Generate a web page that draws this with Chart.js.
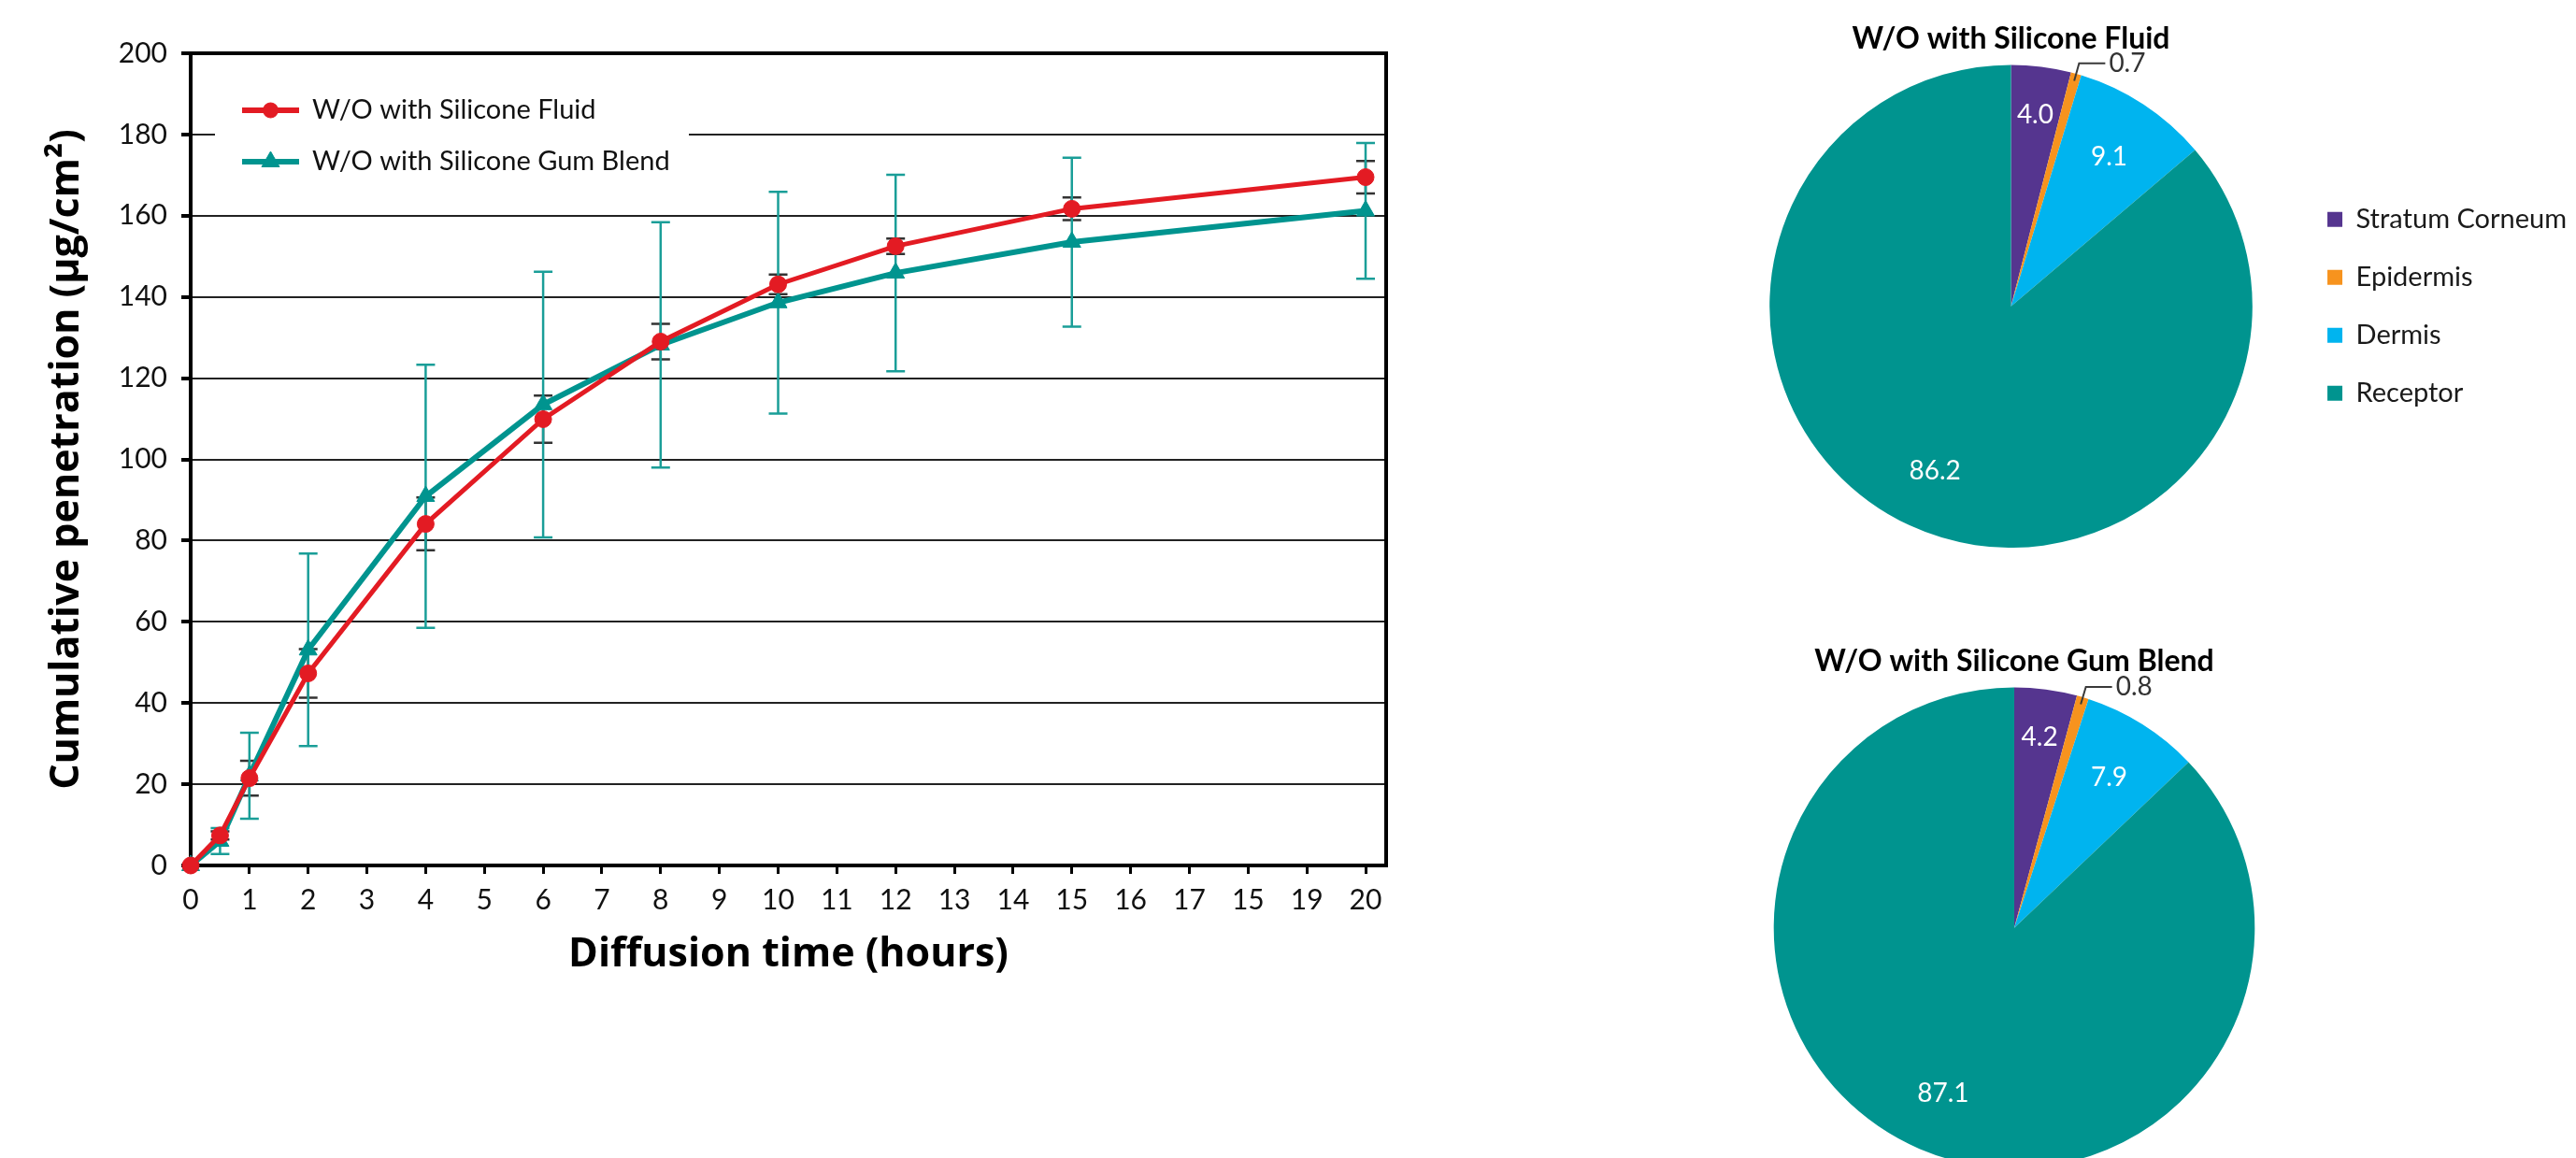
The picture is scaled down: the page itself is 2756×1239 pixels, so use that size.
<!DOCTYPE html>
<html>
<head>
<meta charset="utf-8">
<title>Cumulative penetration</title>
<script src="https://cdn.jsdelivr.net/npm/chart.js@4.4.1/dist/chart.umd.min.js"></script>
<style>
  html, body { margin: 0; padding: 0; background: #fff; }
  body { width: 2756px; height: 1239px; position: relative; overflow: hidden; }
  canvas { position: absolute; }
  #lineChart { left: 0; top: 0; }
  #pieFluid { left: 1846px; top: 0; }
  #pieGum { left: 1840px; top: 660px; }
</style>
</head>
<body>
<canvas id="lineChart" width="1500" height="1080"></canvas>
<canvas id="pieFluid" width="910" height="586"></canvas>
<canvas id="pieGum" width="630" height="590"></canvas>
<script>
// ------------------------------------------------------------------
// Datos
// ------------------------------------------------------------------
const horas = [0, 0.5, 1, 2, 4, 6, 8, 10, 12, 15, 20];
const fluidMedia = [0, 7.4, 21.5, 47.3, 84.1, 109.9, 129.0, 143.1, 152.5, 161.7, 169.5];
const fluidError = [0, 1.0, 4.3, 6.0, 6.5, 5.8, 4.4, 2.4, 1.9, 2.8, 4.0];
const gumMedia = [0, 6.0, 22.1, 53.1, 90.9, 113.5, 128.2, 138.6, 145.9, 153.5, 161.2];
const gumError = [0, 3.2, 10.6, 23.7, 32.4, 32.7, 30.2, 27.3, 24.2, 20.8, 16.7];

const xTicks = [0, 1, 2, 3, 4, 5, 6, 7, 8, 9, 10, 11, 12, 13, 14, 15, 16, 17, 18, 19, 20];
const xTickLabels = ['0', '1', '2', '3', '4', '5', '6', '7', '8', '9', '10', '11', '12', '13', '14', '15', '16', '17', '15', '19', '20'];

const capas = ['Stratum Corneum', 'Epidermis', 'Dermis', 'Receptor'];
const fluidCapas = [4.0, 0.7, 9.1, 86.2];
const gumCapas = [4.2, 0.8, 7.9, 87.1];

const ROJO = '#E31B23';
const VERDE = '#00948F';
const coloresCapas = ['#55358F', '#F7931E', '#00B4EF', '#00948F'];

Chart.defaults.font.family = 'Lato, "Noto Sans", sans-serif';
Chart.defaults.color = '#111';
const fuenteTitulo = '"Open Sans", Lato, sans-serif';

// ------------------------------------------------------------------
// Plugins
// ------------------------------------------------------------------
// marco negro alrededor del area del grafico
const marco = {
  id: 'marco',
  beforeDatasetsDraw(chart) {
    const {ctx, chartArea: a} = chart;
    ctx.save();
    ctx.strokeStyle = '#000';
    ctx.lineWidth = 4;
    ctx.strokeRect(a.left, a.top, a.right - a.left, a.bottom - a.top);
    ctx.restore();
  }
};

// leyenda dentro del area, con fondo blanco
const leyendaInterna = {
  id: 'leyendaInterna',
  beforeDatasetsDraw(chart, args, opts) {
    const {ctx} = chart;
    ctx.save();
    ctx.fillStyle = '#fff';
    ctx.fillRect(opts.left, opts.top, opts.width, opts.height);
    chart.data.datasets.forEach((ds, i) => {
      const cy = opts.firstRow + i * opts.rowGap;
      const x0 = opts.symbolLeft;
      ctx.strokeStyle = ds.borderColor;
      ctx.lineWidth = 6;
      ctx.beginPath();
      ctx.moveTo(x0, cy);
      ctx.lineTo(x0 + opts.symbolWidth, cy);
      ctx.stroke();
      ctx.fillStyle = ds.borderColor;
      ctx.lineWidth = 1;
      Chart.helpers.drawPoint(ctx, {
        pointStyle: ds.pointStyle,
        radius: ds.legendRadius,
        borderWidth: 1,
        rotation: 0
      }, x0 + opts.symbolWidth / 2, cy);
      ctx.fillStyle = '#111';
      ctx.font = opts.font;
      ctx.textAlign = 'left';
      ctx.textBaseline = 'middle';
      ctx.fillText(ds.label, opts.textLeft, cy);
    });
    ctx.restore();
  }
};

// barras de error
const barrasError = {
  id: 'barrasError',
  beforeDatasetsDraw(chart) {
    const {ctx, scales: {x, y}} = chart;
    ctx.save();
    chart.data.datasets.forEach(ds => {
      ctx.strokeStyle = ds.errorColor;
      ctx.lineWidth = 2.5;
      ds.data.forEach((p, i) => {
        const e = ds.errores[i];
        if (!e) return;
        const px = x.getPixelForValue(p.x);
        const arriba = y.getPixelForValue(p.y + e);
        const abajo = y.getPixelForValue(p.y - e);
        ctx.beginPath();
        ctx.moveTo(px, arriba); ctx.lineTo(px, abajo);
        ctx.moveTo(px - 10, arriba); ctx.lineTo(px + 10, arriba);
        ctx.moveTo(px - 10, abajo); ctx.lineTo(px + 10, abajo);
        ctx.stroke();
      });
    });
    ctx.restore();
  }
};

// etiquetas de los sectores
const etiquetasPie = {
  id: 'etiquetasPie',
  afterDatasetsDraw(chart, args, opts) {
    const {ctx} = chart;
    const meta = chart.getDatasetMeta(0);
    const valores = chart.data.datasets[0].data;
    ctx.save();
    ctx.font = '28px Lato, "Noto Sans", sans-serif';
    ctx.textBaseline = 'middle';
    meta.data.forEach((arc, i) => {
      const {x, y, startAngle, endAngle, outerRadius} = arc.getProps(['x', 'y', 'startAngle', 'endAngle', 'outerRadius'], true);
      const mid = (startAngle + endAngle) / 2;
      const punto = f => ({x: x + Math.cos(mid) * outerRadius * f, y: y + Math.sin(mid) * outerRadius * f});
      const texto = valores[i].toFixed(1);
      if (i === opts.callout) {
        const p1 = punto(0.97);
        const p2 = punto(1.045);
        ctx.strokeStyle = '#3a3a3a';
        ctx.lineWidth = 2;
        ctx.beginPath();
        ctx.moveTo(p1.x, p1.y);
        ctx.lineTo(p2.x, p2.y);
        ctx.lineTo(p2.x + 28, p2.y);
        ctx.stroke();
        ctx.fillStyle = '#333';
        ctx.textAlign = 'left';
        ctx.fillText(texto, p2.x + 32, p2.y);
      } else {
        const p = punto(opts.radios[i]);
        ctx.fillStyle = '#fff';
        ctx.textAlign = 'center';
        ctx.fillText(texto, p.x, p.y);
      }
    });
    ctx.restore();
  }
};

// ------------------------------------------------------------------
// Grafico de lineas
// ------------------------------------------------------------------
const puntos = (xs, ys) => xs.map((v, i) => ({x: v, y: ys[i]}));

new Chart(document.getElementById('lineChart'), {
  type: 'line',
  data: {
    datasets: [{
      label: 'W/O with Silicone Fluid',
      data: puntos(horas, fluidMedia),
      errores: fluidError,
      errorColor: '#333',
      borderColor: ROJO,
      backgroundColor: ROJO,
      borderWidth: 5,
      pointStyle: 'circle',
      pointRadius: 9,
      legendRadius: 8,
      pointBackgroundColor: ROJO,
      pointBorderColor: ROJO,
      pointBorderWidth: 1,
      tension: 0,
      clip: false
    }, {
      label: 'W/O with Silicone Gum Blend',
      data: puntos(horas, gumMedia),
      errores: gumError,
      errorColor: '#1A9E98',
      borderColor: VERDE,
      backgroundColor: VERDE,
      borderWidth: 6,
      pointStyle: 'triangle',
      pointRadius: 11,
      legendRadius: 11,
      pointBackgroundColor: VERDE,
      pointBorderColor: VERDE,
      pointBorderWidth: 1,
      tension: 0,
      clip: false
    }]
  },
  options: {
    responsive: false,
    animation: false,
    devicePixelRatio: 1,
    layout: { padding: {left: 20, top: 57, right: 17, bottom: 0} },
    scales: {
      x: {
        type: 'linear',
        min: 0,
        max: 20.35,
        afterBuildTicks(s) { s.ticks = xTicks.map(v => ({value: v})); },
        afterFit(s) { s.height = 154; },
        ticks: {
          autoSkip: false,
          maxRotation: 0,
          padding: 10,
          font: {size: 30},
          color: '#111',
          callback: v => xTickLabels[xTicks.indexOf(v)]
        },
        grid: { drawOnChartArea: false, tickLength: 9, tickWidth: 3, tickColor: '#000' },
        border: { color: '#000', width: 4 },
        title: {
          display: true,
          text: 'Diffusion time (hours)',
          color: '#000',
          font: {family: fuenteTitulo, size: 43, weight: 'bold'},
          padding: {top: 0, bottom: 32}
        }
      },
      y: {
        min: 0,
        max: 200,
        afterFit(s) { s.width = 184; },
        ticks: { stepSize: 20, padding: 15, font: {size: 30}, color: '#111' },
        grid: { color: '#222', lineWidth: 2, tickLength: 10, tickWidth: 4, tickColor: '#000' },
        border: { color: '#000', width: 4 },
        title: {
          display: true,
          text: 'Cumulative penetration (µg/cm²)',
          color: '#000',
          font: {family: fuenteTitulo, size: 43, weight: 'bold'},
          padding: {top: 26, bottom: 0}
        }
      }
    },
    plugins: {
      legend: { display: false },
      tooltip: { enabled: false },
      leyendaInterna: {
        left: 230, top: 80, width: 507, height: 150,
        firstRow: 118, rowGap: 55,
        symbolLeft: 259, symbolWidth: 61, textLeft: 334,
        font: '29px Lato, "Noto Sans", sans-serif'
      }
    }
  },
  plugins: [marco, leyendaInterna, barrasError]
});

// ------------------------------------------------------------------
// Graficos circulares
// ------------------------------------------------------------------
new Chart(document.getElementById('pieFluid'), {
  type: 'pie',
  data: {
    labels: capas,
    datasets: [{ data: fluidCapas, backgroundColor: coloresCapas, borderWidth: 0 }]
  },
  options: {
    responsive: false,
    animation: false,
    devicePixelRatio: 1,
    layout: { padding: {top: 4} },
    plugins: {
      tooltip: { enabled: false },
      title: {
        display: true,
        fullSize: false,
        text: 'W/O with Silicone Fluid',
        color: '#000',
        font: {size: 32, weight: 'bold'},
        padding: {top: 18, bottom: 9}
      },
      legend: {
        position: 'right',
        fullSize: false,
        labels: { boxWidth: 16, boxHeight: 16, padding: 33, font: {size: 29}, color: '#1a1a1a' }
      },
      etiquetasPie: { callout: 1, radios: [0.8, 1, 0.74, 0.75] }
    }
  },
  plugins: [etiquetasPie]
});

new Chart(document.getElementById('pieGum'), {
  type: 'pie',
  data: {
    labels: capas,
    datasets: [{ data: gumCapas, backgroundColor: coloresCapas, borderWidth: 0 }]
  },
  options: {
    responsive: false,
    animation: false,
    devicePixelRatio: 1,
    layout: { padding: {top: 10} },
    plugins: {
      tooltip: { enabled: false },
      title: {
        display: true,
        text: 'W/O with Silicone Gum Blend',
        color: '#000',
        font: {size: 32, weight: 'bold'},
        padding: {top: 18, bottom: 9}
      },
      legend: { display: false },
      etiquetasPie: { callout: 1, radios: [0.8, 1, 0.74, 0.75] }
    }
  },
  plugins: [etiquetasPie]
});
</script>
</body>
</html>
